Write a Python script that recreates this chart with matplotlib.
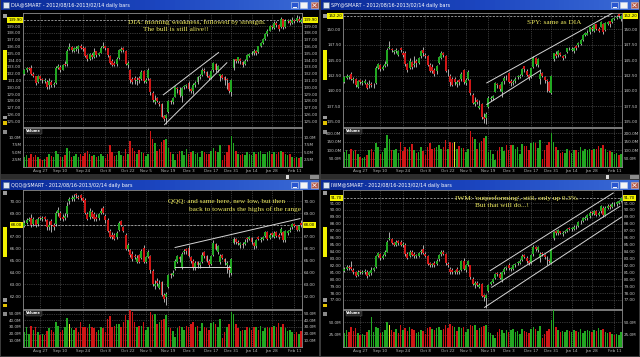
import numpy as np
import matplotlib.pyplot as plt
from matplotlib.colors import LinearSegmentedColormap
from matplotlib.transforms import blended_transform_factory
from matplotlib.patches import Rectangle

# ---- data: 124 daily bars, 2012-08-16 .. 2013-02-14 (bar index = trading day)
tick_pos = [7, 16, 26, 36, 46, 54, 64, 73, 83, 92, 101, 110, 120]
tick_lab = ['Aug 27', 'Sep 10', 'Sep 24', 'Oct 8', 'Oct 22', 'Nov 5', 'Nov 19',
            'Dec 3', 'Dec 17', 'Dec 31', 'Jan 14', 'Jan 28', 'Feb 11']

dia_open = [132.0,132.5,132.8,132.8,132.0,131.6,130.8,131.6,131.2,130.9,130.8,130.3,
            130.8,130.3,130.6,132.9,133.0,132.6,133.4,133.4,135.6,135.9,135.4,135.6,135.6,136.1,135.8,135.7,134.7,134.2,134.8,
            134.5,135.3,134.8,135.1,135.9,136.0,135.7,134.6,133.8,133.6,133.4,134.3,135.4,135.7,135.4,133.3,132.6,131.2,131.4,130.9,131.3,
            131.2,132.4,130.8,131.3,131.2,129.2,127.9,128.4,127.7,127.5,125.8,125.5,126.3,128.0,127.8,128.6,129.9,129.6,128.7,130.1,130.2,
            130.6,129.7,129.4,130.3,130.8,131.5,131.8,132.6,132.3,131.7,131.4,132.5,133.4,132.6,131.6,131.8,131.5,131.2,130.6,129.3,
            132.8,134.1,133.9,134.2,133.7,133.4,134.0,134.6,134.9,135.0,135.3,135.2,136.0,136.5,137.1,137.8,138.3,139.0,138.7,139.5,139.1,
            138.8,140.0,138.9,139.7,139.8,139.4,139.9,139.7,140.1,139.6]
dia_high = [132.7,133.0,133.0,133.2,132.2,131.7,131.8,131.8,131.4,131.3,131.0,131.3,
            131.1,130.8,133.1,133.4,133.2,133.4,133.8,135.6,136.5,136.0,135.9,136.0,136.2,136.3,136.0,135.9,134.9,135.1,135.0,
            135.7,135.4,135.2,136.0,136.6,136.1,135.8,134.8,134.1,133.8,134.4,135.6,135.9,135.9,135.5,133.8,132.7,131.5,131.6,131.5,131.6,
            132.5,132.6,131.4,132.8,131.3,129.4,128.8,128.6,128.0,127.7,126.0,126.1,128.1,128.2,128.6,130.2,130.0,130.0,130.1,130.4,130.5,
            130.9,129.9,130.6,130.9,131.7,131.9,132.9,132.9,132.4,131.8,132.5,133.7,133.5,133.3,132.0,131.9,131.7,131.3,130.8,131.2,
            134.2,134.2,134.5,134.3,133.8,134.1,134.9,135.0,135.3,135.6,135.5,136.1,136.7,137.3,137.9,138.5,139.2,139.2,139.7,139.7,139.3,
            140.3,140.1,140.0,140.1,140.0,140.3,140.1,140.6,140.4,140.2]
dia_low = [131.8,132.3,132.5,131.8,131.5,130.4,130.6,131.0,130.7,130.7,129.8,129.8,
           130.1,130.1,130.5,132.7,132.3,132.5,133.1,133.1,135.5,135.2,135.2,135.4,135.1,135.6,135.3,134.5,133.8,134.0,134.1,
           134.3,134.5,134.6,135.0,135.7,135.5,134.5,133.4,133.1,133.1,133.1,134.1,135.2,135.2,133.2,132.8,130.7,130.5,130.5,130.4,130.6,
           131.0,130.7,130.6,131.1,128.8,127.9,127.5,127.8,127.2,125.6,125.0,124.6,126.2,127.6,127.5,128.5,129.2,128.6,127.9,129.8,129.9,
           129.5,129.1,129.0,130.0,130.5,131.2,131.6,132.1,131.5,131.1,131.2,132.3,132.3,132.3,130.9,131.2,130.4,129.7,129.2,128.7,
           132.6,133.5,133.6,133.4,133.0,133.3,133.9,134.4,134.7,134.8,134.8,135.1,135.9,136.3,137.0,137.6,138.2,138.5,138.6,138.9,138.3,
           138.7,138.6,138.7,139.5,139.1,139.3,139.5,139.6,139.6,139.4]
dia_close = [132.5,132.8,132.7,132.0,131.7,130.6,131.6,131.2,131.0,131.1,130.0,130.9,
             130.4,130.5,132.9,133.1,132.5,133.2,133.3,135.4,135.9,135.5,135.7,135.8,136.0,135.8,135.6,134.6,134.1,134.9,134.4,
             135.2,134.8,135.0,135.8,136.1,135.8,134.7,133.5,133.3,133.3,134.2,135.5,135.6,135.5,133.4,133.5,131.0,130.8,131.0,131.1,131.0,
             132.3,130.9,131.1,132.5,129.3,128.1,128.2,128.0,127.6,125.7,125.4,125.9,128.0,127.9,128.4,130.1,129.7,128.8,129.9,130.2,130.3,
             129.7,129.5,130.4,130.7,131.5,131.7,132.5,132.4,131.7,131.4,132.4,133.5,132.5,133.1,131.9,131.4,131.1,131.0,129.4,131.0,
             134.1,133.9,134.4,133.8,133.3,133.9,134.7,134.9,135.1,135.4,135.1,136.0,136.5,137.1,137.8,138.3,139.0,138.8,139.5,139.1,138.6,
             140.1,138.8,139.8,139.9,139.4,139.9,139.7,140.2,139.8,139.9]
dia_vol = [3.5,4.0,3.0,4.5,3.5,4.0,3.2,2.8,2.5,2.6,3.5,4.5,
           3.8,3.2,5.5,4.5,3.5,3.2,4.0,6.5,5.5,3.5,3.8,4.2,3.5,4.5,3.8,4.8,5.5,4.2,3.8,
           4.0,3.5,3.8,4.2,3.6,3.0,4.5,7.3,5.0,3.8,4.0,5.2,4.0,3.8,6.0,4.5,8.7,6.5,5.5,4.5,5.8,
           5.0,4.8,3.8,4.5,12.0,9.5,8.0,5.5,6.0,8.5,9.0,9.5,6.5,5.0,4.5,2.5,4.5,5.5,5.5,4.0,6.0,
           4.5,5.0,5.5,4.5,4.8,3.5,5.5,5.0,4.5,4.5,5.5,6.5,5.5,5.0,7.5,2.5,4.0,5.0,7.5,10.5,
           8.0,5.5,4.5,4.0,4.5,4.0,5.0,4.5,4.0,5.0,4.5,5.0,5.5,4.5,4.5,5.0,5.5,4.5,5.0,4.5,5.0,
           5.5,5.0,4.5,4.0,4.5,3.5,3.0,3.5,3.0,3.5]

spy_open = [141.5,142.1,142.3,142.7,141.8,141.9,140.7,141.7,141.3,141.3,141.2,141.0,
            141.2,141.0,141.3,143.8,144.2,143.6,144.1,144.3,147.0,146.8,146.3,146.5,145.8,146.9,146.1,146.1,144.3,143.7,144.7,
            144.2,144.8,144.6,145.6,146.6,145.9,145.6,144.2,143.9,143.4,143.2,144.6,145.3,146.1,145.6,143.2,142.5,141.9,141.9,141.2,141.8,
            141.9,143.4,141.3,141.9,141.8,139.4,137.8,138.5,137.3,137.9,135.8,135.6,137.4,138.7,138.9,139.9,141.1,140.9,139.8,141.6,142.3,
            142.9,141.6,141.3,141.6,142.3,142.2,142.6,144.0,143.3,142.6,142.3,143.9,145.4,144.2,142.0,142.9,142.2,141.7,141.4,139.7,
            145.1,146.0,145.9,146.1,145.7,145.6,146.3,147.0,146.6,146.5,147.3,147.4,147.6,148.3,149.1,149.1,149.6,150.2,149.8,150.9,150.1,
            150.4,150.8,149.9,150.9,151.3,151.2,151.7,151.9,152.5,151.6]
spy_high = [142.5,142.7,142.6,143.1,142.2,142.1,141.8,142.0,141.7,141.9,141.4,141.8,
            141.5,141.3,144.0,144.5,144.4,144.2,144.8,147.0,148.1,147.0,146.7,146.9,146.7,147.1,146.4,146.5,144.5,145.3,144.9,
            145.6,145.2,145.5,146.6,147.1,146.1,145.8,144.5,144.4,143.7,144.2,145.7,146.4,146.3,145.8,143.6,142.7,142.2,142.2,141.8,142.0,
            143.1,143.6,142.1,143.4,142.0,139.7,139.0,138.7,138.6,138.1,136.4,136.5,139.1,139.2,139.4,141.4,141.3,141.2,141.6,142.4,142.6,
            143.1,141.9,141.8,142.2,142.6,142.8,143.8,144.1,143.5,142.7,143.8,145.6,145.5,145.4,143.5,143.1,142.5,142.0,141.6,142.6,
            146.2,146.4,146.6,146.3,145.8,146.0,147.0,147.1,147.1,147.2,147.4,148.0,148.4,149.2,149.5,149.9,150.4,150.5,150.8,150.9,150.3,
            151.4,151.0,151.2,151.4,151.4,151.9,152.0,152.3,152.6,152.4]
spy_low = [141.3,141.9,142.0,141.7,141.3,140.7,140.5,141.2,141.0,141.1,140.3,140.4,
           140.6,140.5,141.1,143.6,143.3,143.4,143.9,144.0,146.8,146.3,146.0,146.2,145.6,146.3,145.5,144.1,143.0,143.5,143.6,
           143.9,143.9,144.4,145.3,145.7,145.3,144.0,143.1,142.9,142.5,142.8,144.4,145.1,145.5,143.1,142.5,140.8,140.8,141.0,140.6,140.9,
           141.6,141.2,141.0,141.7,139.3,137.8,137.5,137.8,137.1,135.5,134.8,134.7,137.3,138.3,138.6,139.8,140.4,140.0,139.0,141.2,141.8,
           141.3,140.8,140.9,141.3,141.9,142.1,142.4,143.1,142.4,141.8,142.1,143.8,144.1,143.9,141.2,142.2,141.3,139.9,139.9,139.5,
           144.9,145.3,145.5,145.6,145.0,145.3,146.1,146.6,146.5,146.2,146.6,147.1,147.5,148.1,148.9,149.0,149.3,149.8,149.6,149.9,149.6,
           150.3,149.3,149.8,150.7,150.4,151.0,151.5,151.7,151.8,151.4]
spy_close = [142.2,142.4,142.4,141.9,142.0,140.9,141.6,141.5,141.4,141.6,140.5,141.2,
             141.0,140.9,143.8,144.3,143.5,143.9,144.4,146.6,147.2,146.6,146.4,146.6,146.5,146.6,145.8,144.3,143.4,144.9,143.9,
             144.4,144.5,145.3,146.4,146.2,145.7,144.2,143.3,143.2,142.8,144.0,145.5,146.1,145.8,143.3,143.3,141.4,141.0,141.4,141.4,141.4,
             142.8,141.5,141.8,143.0,139.7,138.0,138.2,138.2,137.6,135.7,135.5,136.2,138.9,138.9,139.2,141.3,141.0,140.3,141.5,142.1,142.2,
             141.5,141.3,141.5,142.0,142.4,142.5,143.5,143.5,142.6,142.1,143.7,145.4,144.3,145.2,142.8,142.4,141.8,141.6,140.0,142.4,
             146.1,145.7,146.4,145.9,145.4,145.9,146.9,146.9,146.8,147.0,147.0,147.8,148.3,149.1,149.4,149.4,150.3,150.1,150.7,150.1,149.7,
             151.2,149.5,151.0,151.2,150.9,151.7,151.8,152.0,152.1,152.2]
spy_vol = [90,100,75,110,95,100,80,60,55,60,70,100,
           105,90,140,120,80,90,115,190,165,100,100,110,85,150,95,120,110,120,135,
           100,85,90,120,95,70,120,140,110,115,120,130,110,120,160,110,150,140,150,110,125,
           115,115,90,110,215,180,165,110,140,155,175,185,90,100,80,40,95,120,120,95,130,
           100,130,130,110,120,80,135,125,125,100,140,150,140,115,160,50,100,130,150,200,
           150,120,100,85,90,85,110,95,85,100,100,90,120,95,105,100,110,100,105,105,125,
           115,130,105,90,95,90,75,85,70,80]

qqq_open = [67.9,68.2,68.4,68.6,68.1,68.4,68.1,68.7,68.5,68.7,68.4,67.8,
            68.3,68.0,68.1,69.0,69.0,68.7,68.6,68.9,70.0,70.2,70.2,70.6,70.4,70.5,70.3,70.1,68.9,68.7,69.1,
            68.9,68.7,68.6,69.0,69.4,68.8,68.4,67.5,67.2,67.2,67.0,67.6,68.3,67.8,67.2,66.0,65.9,65.6,65.4,64.9,65.5,
            65.2,66.1,64.9,65.3,65.4,64.1,62.9,63.3,62.7,63.2,62.1,61.9,62.8,63.9,63.8,64.3,64.9,65.3,64.5,65.7,66.0,
            66.1,65.3,65.0,64.4,64.9,64.6,64.9,65.7,65.4,65.0,64.7,65.5,66.4,65.7,64.9,65.5,65.1,64.6,64.5,64.0,
            66.5,66.8,66.6,66.3,66.4,66.4,66.9,66.8,66.9,66.5,66.2,67.0,66.7,66.8,67.1,67.4,66.9,67.3,67.0,67.4,67.2,
            67.3,67.4,66.7,67.3,67.5,67.8,68.1,67.9,67.6,68.2]
qqq_high = [68.4,68.6,68.7,68.9,68.7,68.5,68.7,68.8,68.8,68.8,68.5,68.3,
            68.5,68.2,69.2,69.5,69.2,68.9,69.0,69.9,70.4,70.5,70.6,70.7,70.5,70.6,70.4,70.3,69.1,69.4,69.3,
            69.1,68.9,69.0,69.4,69.6,68.9,68.6,67.7,67.4,67.3,67.5,68.3,68.4,67.9,67.3,66.5,66.0,65.8,65.6,65.5,65.6,
            66.0,66.3,65.4,65.9,65.5,64.3,63.4,63.5,63.4,63.3,62.3,62.4,63.9,64.0,64.2,65.1,65.5,65.4,65.7,66.0,66.1,
            66.3,65.4,65.1,65.0,65.0,64.9,65.7,65.8,65.5,65.1,65.5,66.7,66.5,66.3,65.6,65.6,65.2,65.0,64.6,65.2,
            67.0,66.9,66.7,66.6,66.6,66.8,67.0,67.1,67.0,66.6,66.8,67.1,67.0,67.1,67.5,67.5,67.3,67.4,67.5,67.5,67.3,
            67.8,67.5,67.6,67.6,67.8,68.2,68.2,68.0,68.0,68.4]
qqq_low = [67.8,68.1,68.3,67.8,67.9,67.8,67.9,68.4,68.3,68.3,67.6,67.6,
           67.4,67.6,67.9,68.8,68.4,68.3,68.4,68.7,69.8,70.0,70.0,70.3,70.2,70.1,69.9,68.9,68.4,68.5,68.6,
           68.3,68.3,68.4,68.9,68.9,68.2,67.4,66.9,66.8,66.7,66.8,67.5,67.9,67.4,65.9,65.8,65.3,65.0,65.1,64.8,64.8,
           65.1,64.8,64.8,65.2,64.0,62.9,62.6,62.9,62.6,62.0,61.5,61.3,62.7,63.5,63.7,64.2,64.8,64.9,64.3,65.6,65.6,
           65.3,64.8,64.2,64.2,64.4,64.4,64.8,65.2,64.9,64.5,64.6,65.4,65.9,65.6,64.7,65.1,64.6,64.0,63.6,63.8,
           66.4,66.4,66.3,66.1,66.1,66.3,66.6,66.7,66.4,66.0,66.1,66.7,66.6,66.7,67.0,66.7,66.8,67.0,66.9,67.0,66.8,
           67.2,66.6,66.6,67.2,67.4,67.7,67.8,67.5,67.5,67.8]
qqq_close = [68.2,68.4,68.5,68.0,68.5,68.0,68.5,68.6,68.6,68.5,67.8,68.0,
             68.0,67.8,69.0,69.3,68.6,68.5,68.8,69.6,70.2,70.3,70.4,70.5,70.3,70.3,70.0,69.0,68.5,69.2,68.7,
             68.5,68.5,68.9,69.2,69.0,68.4,67.5,67.0,67.0,66.8,67.3,68.2,68.0,67.5,66.0,66.3,65.5,65.1,65.3,65.2,64.9,
             65.8,64.9,65.3,65.7,64.2,63.0,63.0,63.1,63.0,62.1,61.8,62.2,63.8,63.8,64.0,65.0,65.4,65.1,65.6,65.8,65.8,
             65.4,65.0,64.4,64.8,64.6,64.8,65.5,65.4,65.0,64.6,65.4,66.5,66.0,66.2,65.4,65.2,64.9,64.8,64.2,65.1,
             66.8,66.6,66.5,66.5,66.3,66.6,66.8,67.0,66.6,66.2,66.7,66.8,66.8,67.0,67.4,66.8,67.2,67.2,67.3,67.1,67.0,
             67.7,66.7,67.5,67.5,67.6,68.1,67.9,67.6,67.9,68.0]
qqq_vol = [22,30,20,32,25,30,22,18,20,18,24,28,
           26,22,38,32,22,26,30,43,35,28,26,28,22,38,30,30,28,34,30,
           28,22,26,30,28,22,42,47,30,32,34,35,30,38,48,40,55,52,38,30,32,
           32,38,25,30,52,48,50,34,38,40,42,48,30,28,24,15,28,32,30,26,32,
           30,34,38,30,32,24,36,30,28,26,36,38,34,30,42,14,22,30,34,52,
           50,34,28,24,26,25,30,28,26,30,30,26,32,24,28,30,28,30,32,30,36,
           30,34,28,24,26,22,20,22,20,24]

iwm_open = [81.2,81.5,81.8,81.7,81.4,81.0,80.6,81.2,80.9,81.0,81.1,80.6,
            80.9,81.4,81.8,83.4,83.6,83.1,83.5,84.0,85.8,85.8,85.2,85.0,85.5,85.4,84.9,85.0,83.7,83.4,84.0,
            83.6,83.4,83.4,83.9,84.3,83.7,83.3,82.3,82.1,82.4,82.2,82.9,83.6,84.0,83.6,82.2,81.5,81.4,81.0,81.5,81.0,
            81.4,82.7,81.3,82.1,82.0,80.1,79.1,79.5,78.9,79.3,77.7,77.3,78.3,79.3,79.6,80.2,80.9,80.8,79.9,81.0,81.6,
            82.1,81.5,81.5,82.0,82.3,82.4,82.8,83.5,83.1,82.6,82.4,83.6,84.6,84.2,83.1,83.8,83.5,83.1,82.8,82.3,
            85.9,86.9,86.6,86.9,86.5,86.8,87.0,87.4,87.2,87.3,87.6,87.7,88.2,88.4,88.7,88.8,89.1,89.7,89.4,89.8,89.3,
            89.8,90.3,89.3,90.3,90.6,90.4,90.9,90.8,91.0,91.3]
iwm_high = [81.8,82.1,82.0,82.7,81.6,81.2,81.3,81.4,81.3,81.5,81.3,81.2,
            81.7,81.8,83.5,84.0,83.8,83.6,84.2,85.6,86.8,86.0,85.4,85.6,85.7,85.6,85.4,85.2,83.9,84.2,84.2,
            84.0,83.7,84.0,84.4,85.0,83.9,83.5,82.5,82.4,82.6,82.9,83.7,84.2,84.2,83.8,82.5,81.7,81.6,81.4,81.7,81.4,
            82.8,83.0,82.2,82.8,82.1,80.3,79.7,79.8,79.4,79.5,77.9,77.8,79.3,79.8,80.2,80.9,81.1,81.0,81.2,81.7,81.9,
            82.3,81.8,82.2,82.4,82.7,82.9,83.6,83.7,83.3,82.8,83.7,84.9,84.8,84.8,83.9,84.0,83.7,83.3,82.9,84.5,
            87.0,87.1,87.3,87.0,86.9,87.1,87.4,87.6,87.6,87.8,87.8,88.4,88.5,89.0,89.1,89.4,89.8,89.9,90.0,90.0,89.8,
            90.7,90.5,90.5,90.8,90.8,91.1,91.1,91.3,91.5,91.9]
iwm_low = [81.0,81.3,81.4,81.3,80.8,80.3,80.4,80.8,80.7,80.8,80.2,80.4,
           80.6,81.2,81.6,83.2,82.8,82.9,83.3,83.9,85.6,85.1,84.8,84.8,85.0,84.8,84.7,83.4,82.9,83.2,83.3,
           83.1,83.1,83.2,83.7,83.6,83.2,82.0,81.8,81.8,81.8,82.0,82.7,83.4,83.5,82.1,81.7,80.8,80.7,80.8,80.8,80.7,
           81.2,81.3,81.1,81.9,80.1,79.1,78.8,79.0,78.7,77.4,76.9,75.9,78.1,79.1,79.4,80.0,80.5,80.0,79.6,80.8,81.4,
           81.4,81.2,81.3,81.8,82.1,82.2,82.6,83.0,82.4,82.1,82.2,83.4,84.1,84.0,82.5,83.4,82.9,82.1,82.3,82.2,
           85.7,86.4,86.4,86.5,86.3,86.6,86.8,87.1,87.0,87.1,87.3,87.5,88.0,88.3,88.5,88.6,88.9,89.3,89.3,89.1,89.1,
           89.6,89.0,89.1,90.2,90.2,90.3,90.6,90.6,90.9,91.2]
iwm_close = [81.5,81.8,81.6,81.5,81.0,80.5,81.0,81.0,81.1,81.2,80.4,81.0,
             81.4,81.6,83.3,83.8,83.0,83.4,84.0,85.4,86.0,85.3,85.0,85.4,85.2,85.0,85.1,83.6,83.1,84.0,83.5,
             83.3,83.5,83.8,84.1,83.8,83.4,82.2,82.0,82.2,82.0,82.7,83.5,84.0,83.7,82.3,82.0,81.1,81.0,81.2,81.0,81.2,
             82.6,81.5,82.0,82.6,80.3,79.3,79.4,79.2,79.1,77.6,77.4,77.7,79.2,79.6,80.0,80.8,80.8,80.2,81.0,81.5,81.7,
             81.6,81.6,82.0,82.2,82.5,82.7,83.4,83.2,82.6,82.3,83.5,84.7,84.3,84.6,83.7,83.6,83.2,83.0,82.6,84.3,
             86.8,86.6,87.1,86.7,86.7,86.9,87.2,87.3,87.4,87.6,87.5,88.2,88.3,88.8,88.9,89.2,89.6,89.5,89.8,89.3,89.6,
             90.5,89.2,90.3,90.6,90.4,90.9,90.8,91.1,91.3,91.7]
iwm_vol = [28,35,30,40,32,38,28,25,26,24,30,35,
           60,30,40,38,28,30,35,50,45,35,30,36,28,45,35,38,32,40,36,
           35,28,30,34,32,26,38,40,36,35,38,40,34,36,45,38,46,42,40,32,40,
           38,40,30,36,45,42,44,34,38,40,42,44,30,28,24,18,30,36,34,28,34,
           30,34,36,30,32,26,36,32,30,28,36,40,36,32,42,18,26,32,36,55,
           76,40,34,30,32,30,34,32,30,34,32,30,36,28,32,34,32,30,34,32,38,
           34,36,30,28,30,26,24,26,24,30]

# hand drawn trend lines (bar index, price)
dia_trend_x = [[61.8, 86.3], [62.3, 90.0]]
dia_trend_y = [[128.9, 135.1], [124.5, 133.6]]
spy_trend_x = [[63.3, 119.5], [63.3, 87.0]]
spy_trend_y = [[141.3, 152.7], [137.8, 143.3]]
qqq_trend_x = [[67.0, 122.5], [67.0, 91.4]]
qqq_trend_y = [[66.11, 68.54], [64.48, 64.48]]
iwm_trend_x = [[64.8, 119.5], [65.5, 122.5], [62.3, 123.2]]
iwm_trend_y = [[81.24, 92.45], [78.83, 90.52], [75.93, 88.97]]

W, H = 640, 357
GREEN, RED = '#22a822', '#d01616'
NOTE = '#f0ec60'

fig = plt.figure(figsize=(W / 100, H / 100), dpi=100, facecolor='#3a3a3a')
bg = fig.add_axes([0, 0, 1, 1], zorder=0)
bg.set_xlim(0, W)
bg.set_ylim(H, 0)
bg.axis('off')

title_cmap = LinearSegmentedColormap.from_list('tb', ['#0a2a96', '#1c46c0', '#3a6ad6'])


def px_axes(x, y, w, h, z=2):
    return fig.add_axes([x / W, 1 - (y + h) / H, w / W, h / H], zorder=z)


def style_axes(ax):
    ax.set_facecolor('black')
    for s in ax.spines.values():
        s.set_color('#8c8c8c')
        s.set_linewidth(0.6)
    ax.grid(True, color='#6a6a6a', ls=(0, (1, 1.6)), lw=0.5)
    ax.set_axisbelow(True)
    ax.set_xlim(-0.6, 123.4)
    ax.set_xticks(tick_pos)
    ax.tick_params(length=0, labelsize=3, labelcolor='#c8c8c8', pad=1.2,
                   labelleft=True, labelright=True)


def draw_panel(ox, oy, bottom, name, o, hi, lo, c, vol, pticks, plim, vticks, vlim,
               tx, ty, notes, hl=None):
    ttop = 3 if bottom else 0
    pt, ph = 13, (119 if bottom else 113.5)
    vt, vh = (133, 37) if bottom else (128, 39)
    ph_end = 179 if bottom else 174

    # window chrome
    bg.add_patch(Rectangle((ox + 1, oy + ttop + 10), 318, ph_end - ttop - 10, fc='black', ec='none'))
    tb = px_axes(ox + 1, oy + ttop, 318, 10, z=1)
    tb.imshow(np.linspace(0, 1, 64)[None, :], aspect='auto', cmap=title_cmap, extent=(0, 318, 10, 0))
    tb.set_xlim(0, 318)
    tb.set_ylim(10, 0)
    tb.axis('off')
    tb.add_patch(Rectangle((1.5, 2), 6, 6, fc='#dfe8f2', ec='#4a6a90', lw=0.4))
    tb.text(10, 5.2, f'{name}@SMART - 2012/08/16-2013/02/14 daily bars', color='white',
            fontsize=3.5, va='center', ha='left')
    tb.add_patch(Rectangle((290, 2.2), 7, 6, fc='#2a56d0', ec='#c8d4f0', lw=0.4))
    tb.plot([291.8, 295.2], [6.6, 6.6], color='white', lw=0.7)
    tb.add_patch(Rectangle((299, 2.2), 7, 6, fc='#f4f4f4', ec='#c8d4f0', lw=0.4))
    tb.add_patch(Rectangle((310, 2.2), 7, 6, fc='#b45a48', ec='#e0c0b0', lw=0.4))
    tb.plot([311.8, 315.2], [3.6, 6.8], color='white', lw=0.5)
    tb.plot([311.8, 315.2], [6.8, 3.6], color='white', lw=0.5)

    # left tool column
    bg.add_patch(Rectangle((ox + 2.5, oy + pt + 1), 4, 3.5, fc='#9a9a9a', ec='none'))
    bg.add_patch(Rectangle((ox + 2.5, oy + pt + 37), 4, 30, fc='#f0f000', ec='none'))
    bg.add_patch(Rectangle((ox + 2.5, oy + pt + ph - 11), 4, 3.5, fc='#9a9a9a', ec='none'))
    bg.add_patch(Rectangle((ox + 2.5, oy + pt + ph - 5.5), 4, 3.5, fc='#e0c000', ec='none'))
    bg.add_patch(Rectangle((ox + 2.5, oy + vt + 2), 4, 3.5, fc='#8a8a8a', ec='none'))
    if not bottom:
        bg.add_patch(Rectangle((ox + 1, oy + 174), 318, 5, fc='#2c2c2c', ec='none'))
        bg.add_patch(Rectangle((ox + 286, oy + 174.5), 3, 4, fc='#d8d8d8', ec='none'))
        bg.add_patch(Rectangle((ox + 310, oy + 174.5), 9, 4, fc='#8c8c8c', ec='none'))

    # price candles
    ax = px_axes(ox + 23, oy + pt, 279, ph)
    style_axes(ax)
    x = np.arange(len(c))
    o, hi, lo, c = map(np.asarray, (o, hi, lo, c))
    up = c >= o
    cols = np.where(up, GREEN, RED)
    ax.vlines(x, lo, hi, colors='#dadada', lw=0.55, zorder=2)
    ax.bar(x, np.maximum(np.abs(c - o), 0.03 * (plim[1] - plim[0]) / 10), bottom=np.minimum(o, c),
           width=0.8, color=cols, lw=0, zorder=3)
    for xs, ys in zip(tx, ty):
        ax.plot(xs, ys, color='#d6d6d6', lw=0.7, zorder=4)
    ax.axhline(c[-1], color='#c8c8c8', lw=0.5, ls=(0, (3, 2)), zorder=1)
    ax.set_ylim(*plim)
    ax.set_yticks(pticks)
    ax.set_yticklabels([f'{t:.2f}' for t in pticks])
    ax.set_xticklabels([])
    tr = blended_transform_factory(ax.transAxes, ax.transData)
    for xa, ha in ((-0.004, 'right'), (1.006, 'left')):
        ax.text(xa, c[-1], f'{c[-1]:.2f}', transform=tr, ha=ha, va='center', fontsize=2.9,
                color='black', clip_on=False, zorder=6,
                bbox=dict(fc='#f2f200', ec='none', pad=0.7))

    # volume
    vx = px_axes(ox + 23, oy + vt, 279, vh)
    style_axes(vx)
    vcols = list(cols)
    if hl is not None:
        vcols[hl] = '#f0e030'
    vx.bar(x, vol, width=0.75, color=vcols, lw=0, zorder=3)
    vx.set_ylim(*vlim)
    vx.set_yticks(vticks)
    vx.set_yticklabels([f'{t:.1f}M' for t in vticks])
    vx.set_xticklabels(tick_lab)
    vx.tick_params(axis='x', labelcolor='#b4b4b4', pad=1.6)
    vx.text(0.012, 0.965, 'Volume', transform=vx.transAxes, ha='left', va='top', fontsize=2.6,
            color='white', fontweight='bold', zorder=6,
            bbox=dict(fc='#262626', ec='#5a5a5a', lw=0.3, pad=0.5))

    for (nx, ny, s) in notes:
        fig.text((ox + nx) / W, 1 - (oy + ny) / H, s, fontsize=5.2, color=NOTE,
                 family=['Liberation Serif', 'DejaVu Serif'], ha='left', va='center', zorder=10)


draw_panel(0, 0, False, 'DIA', dia_open, dia_high, dia_low, dia_close, dia_vol,
           list(range(125, 140)), (124.24, 140.91), [2.5, 5.0, 7.5, 10.0], (0, 13.0),
           dia_trend_x, dia_trend_y,
           [(128, 22, 'DIA: morning weakness, followed by strength.'),
            (143, 29.5, 'The bull is still alive!!')])
draw_panel(320, 0, False, 'SPY', spy_open, spy_high, spy_low, spy_close, spy_vol,
           [135.0, 137.5, 140.0, 142.5, 145.0, 147.5, 150.0], (134.22, 152.65),
           [50, 100, 150, 200], (0, 232), spy_trend_x, spy_trend_y,
           [(207, 23, 'SPY: same as DIA')], hl=49)
draw_panel(0, 177, True, 'QQQ', qqq_open, qqq_high, qqq_low, qqq_close, qqq_vol,
           list(range(62, 71)), (60.93, 70.95), [10, 20, 30, 40, 50], (0, 55.5),
           qqq_trend_x, qqq_trend_y,
           [(168, 24.3, 'QQQ: and same here, new low, but then'),
            (189, 32.3, 'back to towards the highs of the range')], hl=20)
draw_panel(320, 177, True, 'IWM', iwm_open, iwm_high, iwm_low, iwm_close, iwm_vol,
           list(range(77, 92)), (75.70, 92.88), [25, 50], (0, 75),
           iwm_trend_x, iwm_trend_y,
           [(135, 21, "IWM: 'outperforming', still, only up 0.3%."),
            (155, 29, 'But that will do...!')], hl=20)

fig.savefig('out.png', dpi=100, facecolor=fig.get_facecolor())
